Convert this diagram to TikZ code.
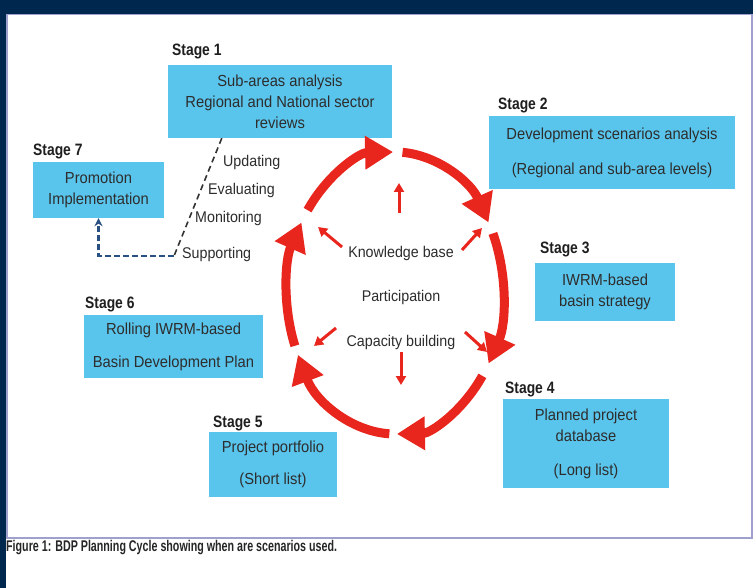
\documentclass[tikz,border=0pt]{standalone}
\usepackage{fontspec}
\setmainfont{Liberation Sans}[FakeStretch=0.92]
\newfontfamily\condfont{Liberation Sans}[FakeStretch=0.84]
\newfontfamily\capfont{Liberation Sans}[FakeStretch=0.69]
\usetikzlibrary{arrows.meta,calc}
\definecolor{navy}{RGB}{0,40,78}
\definecolor{boxblue}{RGB}{90,197,236}
\definecolor{cyclered}{RGB}{232,38,30}
\definecolor{panelline}{RGB}{160,160,205}
\definecolor{txtgray}{RGB}{45,45,45}
\definecolor{dashblue}{RGB}{40,80,130}
\begin{document}
\begin{tikzpicture}[x=1pt,y=-1pt,
 stagebox/.style={fill=boxblue, draw=none, inner sep=0pt, align=center, text=txtgray, font=\fontsize{16}{21}\selectfont},
 stagelabel/.style={anchor=west, inner sep=0pt, font=\condfont\bfseries\fontsize{16.5}{18}\selectfont, text=black!88},
 plainlabel/.style={anchor=west, inner sep=0pt, text=txtgray, font=\fontsize{15.5}{18}\selectfont},
 centerlabel/.style={inner sep=0pt, text=txtgray, font=\fontsize{15.5}{18}\selectfont},
 cyc/.style={draw=cyclered, line width=9pt, -{Triangle[length=28pt,width=32pt]}},
 smallarrow/.style={draw=cyclered, line width=3pt, -{Triangle[length=9pt,width=10pt]}},
]
\useasboundingbox (0,0) rectangle (753,588);
\fill[navy] (0,0) rectangle (753,588);
\fill[white] (6,14) rectangle (753,588);
\draw[panelline, line width=1.5pt] (6.75,14.75) rectangle (752,538);

% stage boxes
\node[stagebox, minimum width=224pt, minimum height=73pt] (s1) at (280,101.5) {Sub-areas analysis\\Regional and National sector\\reviews};
\node[stagebox, minimum width=246pt, minimum height=73pt] (s2) at (612,152.5) {Development scenarios analysis\\[14pt](Regional and sub-area levels)};
\node[stagebox, minimum width=140pt, minimum height=58pt] (s3) at (605,292) {IWRM-based\\basin strategy};
\node[stagebox, minimum width=166pt, minimum height=89pt] (s4) at (586,443.5) {Planned project\\database\\[13pt](Long list)};
\node[stagebox, minimum width=128pt, minimum height=65pt] (s5) at (273,464.5) {Project portfolio\\[11pt](Short list)};
\node[stagebox, minimum width=179pt, minimum height=63pt] (s6) at (173.5,346.5) {Rolling IWRM-based\\[12pt]Basin Development Plan};
\node[stagebox, minimum width=131pt, minimum height=56pt] (s7) at (98.5,190) {Promotion\\Implementation};

% stage labels
\node[stagelabel] (l1) at (172,51) {Stage 1};
\node[stagelabel] (l2) at (498,105) {Stage 2};
\node[stagelabel] (l3) at (540,249) {Stage 3};
\node[stagelabel] (l4) at (505,389) {Stage 4};
\node[stagelabel] (l5) at (213,423) {Stage 5};
\node[stagelabel] (l6) at (85,304) {Stage 6};
\node[stagelabel] (l7) at (33,151) {Stage 7};

% cycle
\coordinate (C) at (395,293);
\foreach \a/\b in {-144/-91, -86/-30, -25/30, 36/89, 93/154, 158/210}{
  \draw[cyc] ($(C)+({108*cos(\a)},{141*sin(\a)})$) arc[start angle=\a, end angle=\b, x radius=108, y radius=141];
}

% centre texts
\node[centerlabel] (kb) at (401,253) {Knowledge base};
\node[centerlabel] (pa) at (401,297) {Participation};
\node[centerlabel] (cb) at (401,342) {Capacity building};

% small arrows
\draw[smallarrow] (399,213) -- (399,183);
\draw[smallarrow] (342,247) -- (318,227);
\draw[smallarrow] (462,250) -- (482,228);
\draw[smallarrow] (336,328) -- (314,346);
\draw[smallarrow] (465,332) -- (487,352);
\draw[smallarrow] (401,352) -- (401,385);

% monitoring labels
\node[plainlabel] (up) at (223,162) {Updating};
\node[plainlabel] (ev) at (208,190) {Evaluating};
\node[plainlabel] (mo) at (195,218) {Monitoring};
\node[plainlabel] (su) at (182,254) {Supporting};

\coordinate (junc) at (174,256);
\draw[black!80, line width=1.6pt, dash pattern=on 6pt off 4pt] ($(s1.south west)+(54,0)$) -- (junc);
\draw[dashblue, line width=2.5pt, dash pattern=on 6pt off 3pt, -{Stealth[length=8pt,width=8pt]}] (junc) -| (s7.south);

% caption
\node[anchor=west, inner sep=0pt, font=\capfont\bfseries\fontsize{15.5}{18}\selectfont, text=black!85] (cap) at (6,548) {Figure 1: BDP Planning Cycle showing when are scenarios used.};
\end{tikzpicture}
\end{document}
